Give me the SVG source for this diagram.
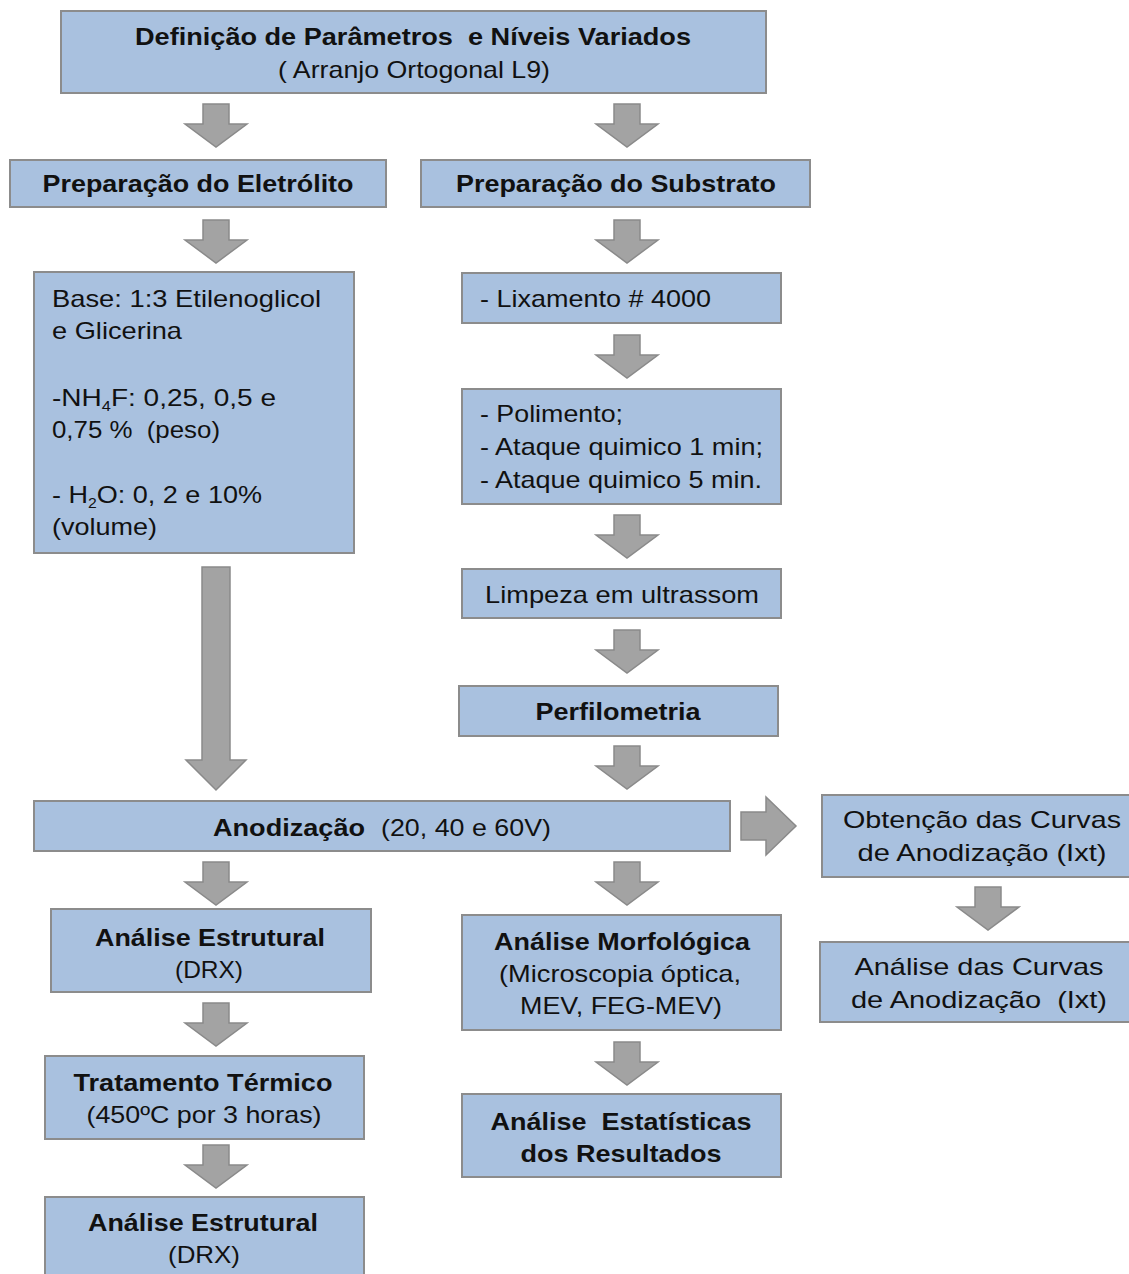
<svg xmlns="http://www.w3.org/2000/svg" xmlns:xlink="http://www.w3.org/1999/xlink" width="1129" height="1274" viewBox="0 0 1129 1274">
<style>
.box{fill:#A9C1DF;stroke:#8C8C8C;stroke-width:2}
.arr{fill:#A3A3A3;stroke:#8A8A8A;stroke-width:1.5}
text{font-family:"Liberation Sans",Arial,sans-serif;font-size:24px;fill:#111;white-space:pre}
.b{font-weight:bold}
.c{text-anchor:middle}
</style>
<defs>
<path id="down" d="M-13,0 H13 V20 H31 L0,43 L-31,20 H-13 Z"/>
</defs>
<rect width="1129" height="1274" fill="#fff"/>
<g id="connectors">
<use href="#down" class="arr" x="216" y="104"/>
<use href="#down" class="arr" x="627" y="104"/>
<use href="#down" class="arr" x="216" y="220"/>
<use href="#down" class="arr" x="627" y="220"/>
<use href="#down" class="arr" x="627" y="335"/>
<use href="#down" class="arr" x="627" y="515"/>
<use href="#down" class="arr" x="627" y="630"/>
<use href="#down" class="arr" x="627" y="746"/>
<path class="arr" d="M202,567 H230 V760 H246 L216,790 L186,760 H202 Z"/>
<path class="arr" d="M741,812 H766 V797 L796,826 L766,855 V840 H741 Z"/>
<use href="#down" class="arr" x="216" y="862"/>
<use href="#down" class="arr" x="627" y="862"/>
<use href="#down" class="arr" x="988" y="887"/>
<use href="#down" class="arr" x="216" y="1003"/>
<use href="#down" class="arr" x="216" y="1145"/>
<use href="#down" class="arr" x="627" y="1042"/>
</g>
<g id="n1"><rect class="box" x="61" y="11" width="705" height="82"/>
<text class="b c" x="413" y="45" textLength="556" lengthAdjust="spacingAndGlyphs">Definição de Parâmetros  e Níveis Variados</text>
<text class="c" x="414" y="78" textLength="272" lengthAdjust="spacingAndGlyphs">( Arranjo Ortogonal L9)</text></g>
<g id="n2"><rect class="box" x="10" y="160" width="376" height="47"/>
<text class="b c" x="198" y="192" textLength="311" lengthAdjust="spacingAndGlyphs">Preparação do Eletrólito</text></g>
<g id="n3"><rect class="box" x="421" y="160" width="389" height="47"/>
<text class="b c" x="616" y="192" textLength="320" lengthAdjust="spacingAndGlyphs">Preparação do Substrato</text></g>
<g id="n4"><rect class="box" x="34" y="272" width="320" height="281"/>
<text x="52" y="307" textLength="269" lengthAdjust="spacingAndGlyphs">Base: 1:3 Etilenoglicol</text>
<text x="52" y="339" textLength="130" lengthAdjust="spacingAndGlyphs">e Glicerina</text>
<text x="52" y="406" textLength="224" lengthAdjust="spacingAndGlyphs">-NH<tspan font-size="14" dy="5">4</tspan><tspan dy="-5">F: 0,25, 0,5 e</tspan></text>
<text x="52" y="438" textLength="168" lengthAdjust="spacingAndGlyphs">0,75 %  (peso)</text>
<text x="52" y="503" textLength="210" lengthAdjust="spacingAndGlyphs">- H<tspan font-size="14" dy="5">2</tspan><tspan dy="-5">O: 0, 2 e 10%</tspan></text>
<text x="52" y="535" textLength="105" lengthAdjust="spacingAndGlyphs">(volume)</text></g>
<g id="n5"><rect class="box" x="462" y="273" width="319" height="50"/>
<text x="480" y="307" textLength="231" lengthAdjust="spacingAndGlyphs">- Lixamento # 4000</text></g>
<g id="n6"><rect class="box" x="462" y="389" width="319" height="115"/>
<text x="480" y="422" textLength="143" lengthAdjust="spacingAndGlyphs">- Polimento;</text>
<text x="480" y="455" textLength="283" lengthAdjust="spacingAndGlyphs">- Ataque quimico 1 min;</text>
<text x="480" y="488" textLength="282" lengthAdjust="spacingAndGlyphs">- Ataque quimico 5 min.</text></g>
<g id="n7"><rect class="box" x="462" y="569" width="319" height="49"/>
<text class="c" x="622" y="603" textLength="274" lengthAdjust="spacingAndGlyphs">Limpeza em ultrassom</text></g>
<g id="n8"><rect class="box" x="459" y="686" width="319" height="50"/>
<text class="b c" x="618" y="720" textLength="165" lengthAdjust="spacingAndGlyphs">Perfilometria</text></g>
<g id="n9"><rect class="box" x="34" y="801" width="696" height="50"/>
<text class="b" x="213" y="836" textLength="152" lengthAdjust="spacingAndGlyphs">Anodização</text>
<text x="381" y="836" textLength="170" lengthAdjust="spacingAndGlyphs">(20, 40 e 60V)</text></g>
<g id="n10"><rect class="box" x="822" y="795" width="320" height="82"/>
<text class="c" x="982" y="828" textLength="278" lengthAdjust="spacingAndGlyphs">Obtenção das Curvas</text>
<text class="c" x="982" y="861" textLength="249" lengthAdjust="spacingAndGlyphs">de Anodização (Ixt)</text></g>
<g id="n11"><rect class="box" x="820" y="942" width="320" height="80"/>
<text class="c" x="979" y="975" textLength="249" lengthAdjust="spacingAndGlyphs">Análise das Curvas</text>
<text class="c" x="979" y="1008" textLength="256" lengthAdjust="spacingAndGlyphs">de Anodização  (Ixt)</text></g>
<g id="n12"><rect class="box" x="51" y="909" width="320" height="83"/>
<text class="b c" x="210" y="946" textLength="230" lengthAdjust="spacingAndGlyphs">Análise Estrutural</text>
<text class="c" x="209" y="978" textLength="68" lengthAdjust="spacingAndGlyphs">(DRX)</text></g>
<g id="n13"><rect class="box" x="45" y="1056" width="319" height="83"/>
<text class="b c" x="203" y="1091" textLength="259" lengthAdjust="spacingAndGlyphs">Tratamento Térmico</text>
<text class="c" x="204" y="1123" textLength="235" lengthAdjust="spacingAndGlyphs">(450ºC por 3 horas)</text></g>
<g id="n14"><rect class="box" x="45" y="1197" width="319" height="90"/>
<text class="b c" x="203" y="1231" textLength="230" lengthAdjust="spacingAndGlyphs">Análise Estrutural</text>
<text class="c" x="204" y="1263" textLength="72" lengthAdjust="spacingAndGlyphs">(DRX)</text></g>
<g id="n15"><rect class="box" x="462" y="915" width="319" height="115"/>
<text class="b c" x="622" y="950" textLength="256" lengthAdjust="spacingAndGlyphs">Análise Morfológica</text>
<text class="c" x="620" y="982" textLength="242" lengthAdjust="spacingAndGlyphs">(Microscopia óptica,</text>
<text class="c" x="621" y="1014" textLength="202" lengthAdjust="spacingAndGlyphs">MEV, FEG-MEV)</text></g>
<g id="n16"><rect class="box" x="462" y="1094" width="319" height="83"/>
<text class="b c" x="621" y="1130" textLength="261" lengthAdjust="spacingAndGlyphs">Análise  Estatísticas</text>
<text class="b c" x="621" y="1162" textLength="201" lengthAdjust="spacingAndGlyphs">dos Resultados</text></g>
</svg>
